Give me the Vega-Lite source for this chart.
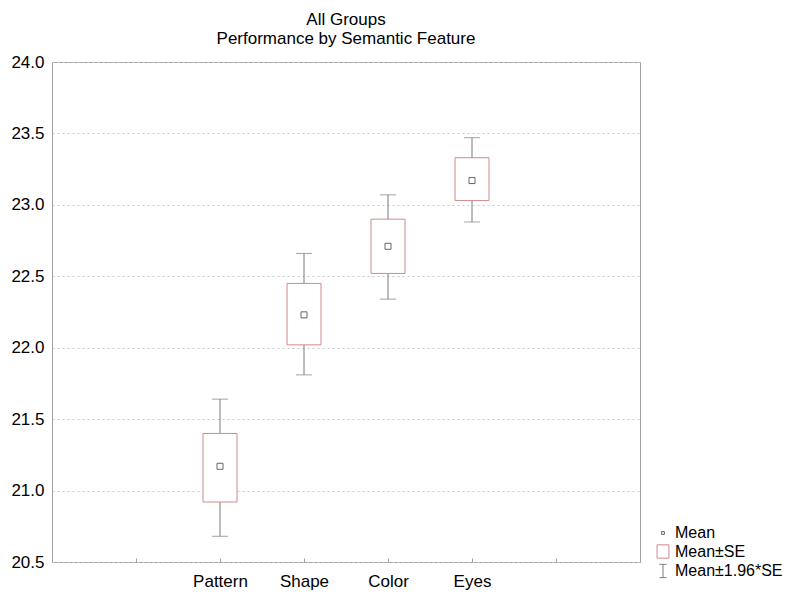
{
  "$schema": "https://vega.github.io/schema/vega-lite/v6.json",
  "autosize": "none",
  "width": 588,
  "height": 500,
  "padding": {"left": 52, "top": 62, "right": 160, "bottom": 43},
  "background": "white",
  "config": {
    "font": "Liberation Sans",
    "view": {"stroke": "#a0a0a0", "strokeWidth": 1},
    "axis": {"labelFont": "Liberation Sans", "labelFontSize": 17, "labelColor": "#000", "domain": false, "tickColor": "#a0a0a0"}
  },
  "title": {
    "text": ["All Groups", "Performance by Semantic Feature"],
    "fontSize": 17,
    "fontWeight": "normal",
    "color": "#000",
    "anchor": "middle",
    "lineHeight": 19,
    "offset": 5
  },
  "data": {
    "values": [
      {"feature": "Pattern", "mean": 21.17, "se_lo": 20.92, "se_hi": 21.40, "ci_lo": 20.68, "ci_hi": 21.64},
      {"feature": "Shape", "mean": 22.23, "se_lo": 22.02, "se_hi": 22.45, "ci_lo": 21.81, "ci_hi": 22.66},
      {"feature": "Color", "mean": 22.71, "se_lo": 22.52, "se_hi": 22.90, "ci_lo": 22.34, "ci_hi": 23.07},
      {"feature": "Eyes", "mean": 23.17, "se_lo": 23.03, "se_hi": 23.33, "ci_lo": 22.88, "ci_hi": 23.47}
    ]
  },
  "encoding": {
    "x": {
      "field": "feature",
      "type": "nominal",
      "sort": null,
      "scale": {"type": "point", "domain": ["_0", "_1", "Pattern", "Shape", "Color", "Eyes", "_6", "_7"], "padding": 0},
      "axis": {"title": null, "labelAngle": 0, "labelExpr": "indexof(datum.value, '_') == 0 ? '' : datum.value", "tickSize": -4, "labelPadding": 15, "grid": false}
    }
  },
  "layer": [
    {
      "mark": {"type": "rule", "color": "#7a7a7a", "strokeWidth": 1},
      "encoding": {
        "y": {
          "field": "ci_lo",
          "type": "quantitative",
          "scale": {"domain": [20.5, 24.0], "nice": false, "zero": false},
          "axis": {"title": null, "values": [20.5, 21.0, 21.5, 22.0, 22.5, 23.0, 23.5, 24.0], "format": ".1f", "tickSize": 0, "labelPadding": 8, "grid": true, "gridColor": "#c8c8c8", "gridDash": [2, 3], "gridWidth": 1}
        },
        "y2": {"field": "ci_hi"}
      }
    },
    {
      "mark": {"type": "tick", "color": "#7a7a7a", "size": 16, "thickness": 1},
      "encoding": {"y": {"field": "ci_lo", "type": "quantitative"}}
    },
    {
      "mark": {"type": "tick", "color": "#7a7a7a", "size": 16, "thickness": 1},
      "encoding": {"y": {"field": "ci_hi", "type": "quantitative"}}
    },
    {
      "mark": {"type": "bar", "fill": "white", "stroke": "#d08a8a", "strokeWidth": 1, "size": 34},
      "encoding": {
        "y": {"field": "se_lo", "type": "quantitative"},
        "y2": {"field": "se_hi"}
      }
    },
    {
      "mark": {"type": "point", "filled": false, "size": 900, "strokeWidth": 1, "opacity": 1},
      "encoding": {
        "y": {"field": "mean", "type": "quantitative"},
        "shape": {
          "datum": "Mean",
          "scale": {
            "domain": ["Mean", "Mean±SE", "Mean±1.96*SE"],
            "range": ["M-0.2,-0.2H0.2V0.2H-0.2Z", "M-0.85,-0.95H0.85V0.95H-0.85Z", "M-0.5,-0.95H0.5M0,-0.95V0.95M-0.5,0.95H0.5"]
          },
          "legend": {
            "title": null,
            "orient": "none",
            "legendX": 603,
            "legendY": 463,
            "symbolSize": 196,
            "symbolStrokeWidth": 1,
            "labelFontSize": 16,
            "labelFont": "Liberation Sans",
            "labelColor": "#000",
            "rowPadding": 1.5,
            "labelOffset": 4
          }
        },
        "stroke": {
          "datum": "Mean",
          "scale": {"domain": ["Mean", "Mean±SE", "Mean±1.96*SE"], "range": ["#666666", "#d08a8a", "#7a7a7a"]},
          "legend": {
            "title": null,
            "orient": "none",
            "legendX": 603,
            "legendY": 463,
            "symbolSize": 196,
            "symbolStrokeWidth": 1,
            "labelFontSize": 16,
            "labelFont": "Liberation Sans",
            "labelColor": "#000",
            "rowPadding": 1.5,
            "labelOffset": 4
          }
        }
      }
    }
  ]
}
